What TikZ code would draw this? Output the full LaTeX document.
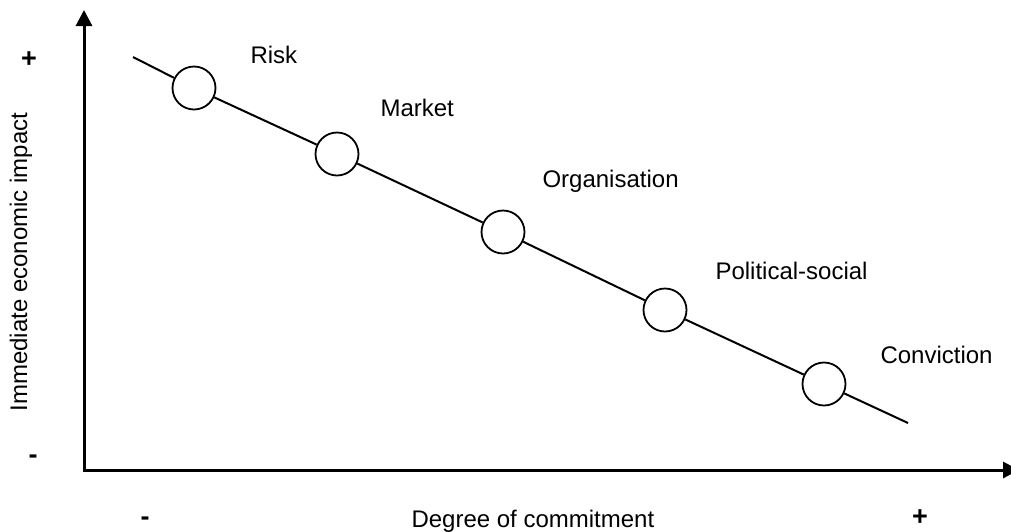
\documentclass[tikz,border=0pt]{standalone}
\usepackage{fontspec}
\setmainfont{Liberation Sans}
\usetikzlibrary{arrows.meta}
\tikzset{stage/.style={draw,circle,fill=white,line width=1.8pt,minimum size=43pt,inner sep=0pt},
         tag/.style={anchor=base west,font=\fontsize{24}{28}\selectfont},
         sign/.style={anchor=base,inner sep=0pt,font=\fontsize{27}{30}\selectfont\bfseries},
         axis/.style={line width=3pt,{Triangle[length=16pt,width=16pt]}-{Triangle[length=16pt,width=16pt]}},
        }

\begin{document}
\begin{tikzpicture}[x=1pt,y=-1pt]
        \useasboundingbox (0,0) rectangle (1011,531);
        \coordinate (ytop) at (84,10);
        \coordinate (o) at (84,470);
        \coordinate (xend) at (1019,470);
        \draw[axis](ytop)--(o)--(xend);

        \node[sign](yplus)at(29,67){+};
        \node[sign](yminus)at(33,463){-};
        \node[sign](xminus)at(145,525){-};
        \node[sign](xplus)at(920,525){+};
        \node[rotate=90,font=\fontsize{24}{28}\selectfont](ylab)at(21,262){Immediate economic impact};
        \node[tag](xlab)at(408,527){Degree of commitment};

        \coordinate (s) at (133,57);
        \node[stage](risk)at(194,88){};
        \node[stage](market)at(337,154){};
        \node[stage](org)at(503,232){};
        \node[stage](pol)at(665,310){};
        \node[stage](conv)at(824,384){};
        \coordinate (e) at (908,423);
        \draw[line width=2pt](s)--(risk)--(market)--(org)--(pol)--(conv)--(e);

        \node[tag]at(247,63){Risk};
        \node[tag]at(377,116){Market};
        \node[tag]at(539,187){Organisation};
        \node[tag]at(712,279){Political-social};
        \node[tag]at(877,363){Conviction};
\end{tikzpicture}
\end{document}
